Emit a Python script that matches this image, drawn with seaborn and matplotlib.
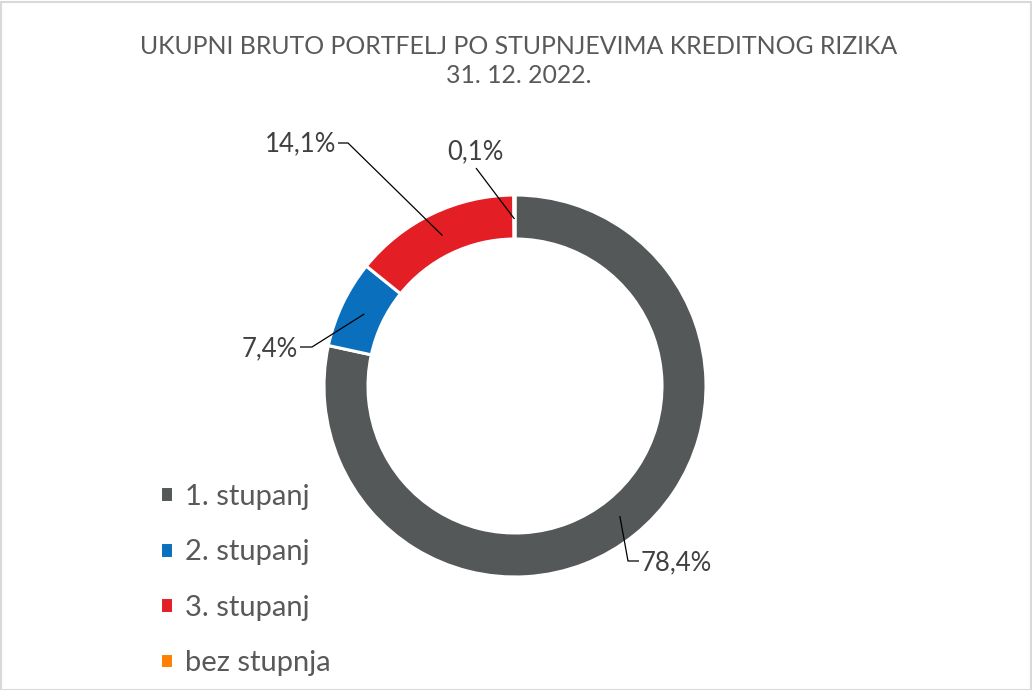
import numpy as np
import matplotlib
matplotlib.use("Agg")
import matplotlib.pyplot as plt
import seaborn as sns
from matplotlib.patches import Rectangle

# chart data
categories = ['1. stupanj', '2. stupanj', '3. stupanj', 'bez stupnja']
shares = [78.4, 7.4, 14.1, 0.1]
share_labels = ['78,4%', '7,4%', '14,1%', '0,1%']
colors = ['#545859', '#0A70BE', '#E31E24', '#FF8000']
title = 'UKUPNI BRUTO PORTFELJ PO STUPNJEVIMA KREDITNOG RIZIKA\n31. 12. 2022.'

sns.set_theme(style='white')
plt.rcParams['font.family'] = ['Lato', 'DejaVu Sans']

W, H = 1032, 690
fig = plt.figure(figsize=(W / 100, H / 100), dpi=100)
ax = fig.add_axes([0, 0, 1, 1])

# pixel layout (y measured from bottom)
cx, cy = 515, H - 386
R = 191
ring = 44

wedges, _ = ax.pie(shares, colors=colors, startangle=90, counterclock=False,
                   radius=R, center=(cx, cy),
                   wedgeprops=dict(width=ring, edgecolor='white', linewidth=2.2))
ax.set_xlim(0, W)
ax.set_ylim(0, H)
ax.set_aspect('equal')
ax.axis('off')

# data label layout: text anchor, alignment, elbow points (pixels, y from top)
label_layout = [
    dict(text=(641, 563), ha='left', elbow=[(628, 561), (639, 561)]),
    dict(text=(298, 349), ha='right', elbow=[(312, 347), (300, 347)]),
    dict(text=(336, 144), ha='right', elbow=[(348, 143), (338, 143)]),
    dict(text=(475, 152), ha='center', elbow=[(476, 168)]),
]

label_color = '#404040'
for w, lab, lay in zip(wedges, share_labels, label_layout):
    mid = np.deg2rad((w.theta1 + w.theta2) / 2)
    rm = R - ring / 2 - 2
    ax_x = cx + rm * np.cos(mid)
    ax_y = cy + rm * np.sin(mid)
    pts = [(ax_x, ax_y)] + [(px, H - py) for px, py in lay['elbow']]
    xs, ys = zip(*pts)
    ax.plot(xs, ys, color='black', lw=0.9, clip_on=False, solid_capstyle='butt')
    tx, ty = lay['text']
    ax.text(tx, H - ty, lab, ha=lay['ha'], va='center', fontsize=18.5,
            color=label_color)

fig.text(519 / W, 1 - 61 / H, title, ha='center', va='center', fontsize=17.9,
         color='#595959', linespacing=1.3)

leg = ax.legend(wedges, categories, loc='upper left',
                bbox_to_anchor=(148 / W, 1 - 472 / H), bbox_transform=fig.transFigure,
                frameon=False, fontsize=21, handlelength=0.45, handleheight=0.45,
                handletextpad=0.42, labelspacing=1.01, borderaxespad=0)
for t in leg.get_texts():
    t.set_color('#595959')

fig.patches.append(Rectangle((0.5 / W, 0.5 / H), 1 - 2 / W, 1 - 2 / H,
                             transform=fig.transFigure, fill=False,
                             edgecolor='#D9D9D9', linewidth=1.5))

fig.savefig('out.png', dpi=100, facecolor='white')
